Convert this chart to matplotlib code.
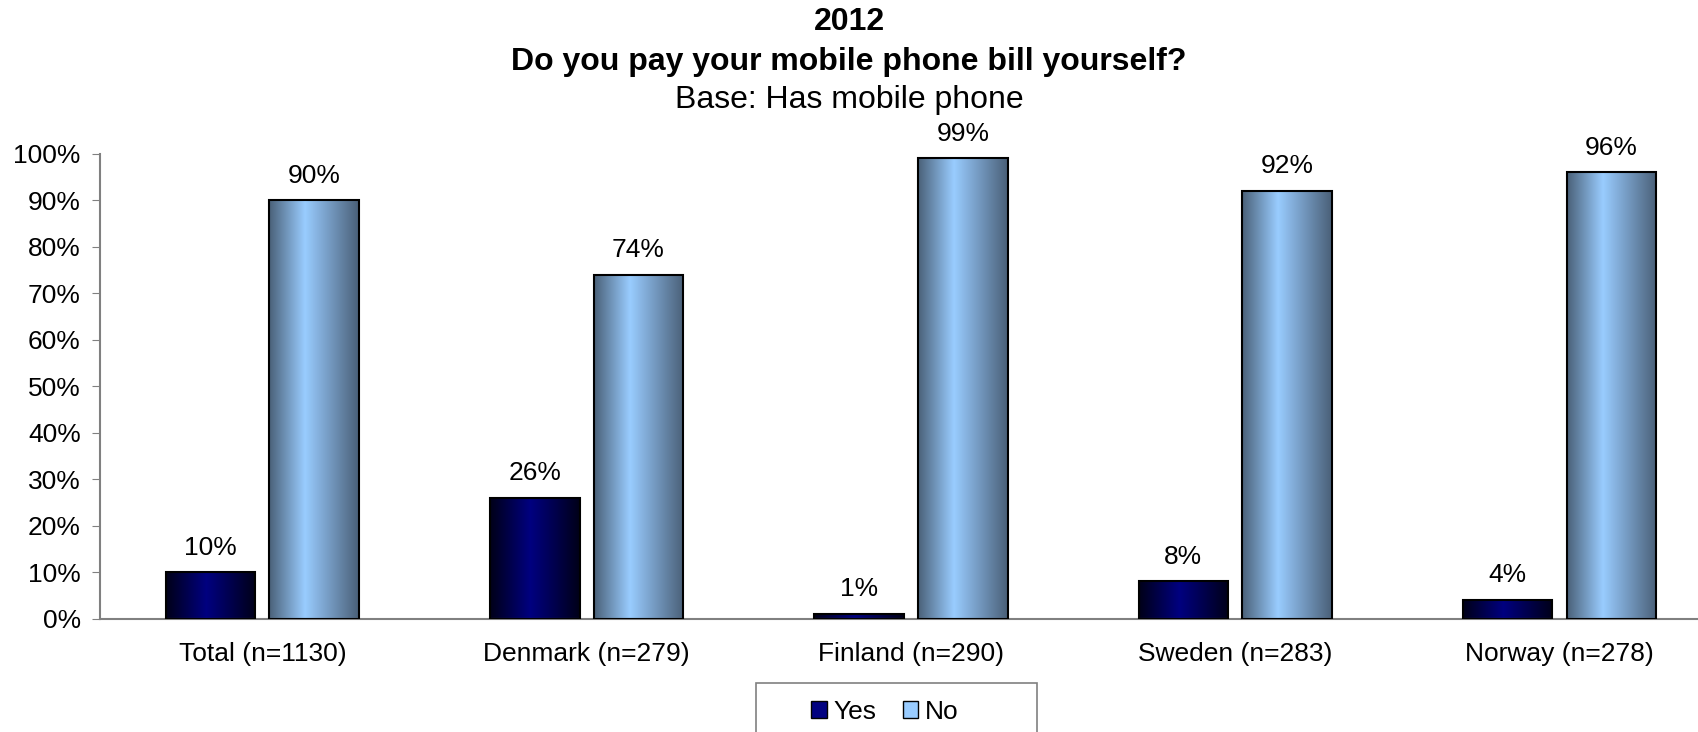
import numpy as np
import matplotlib.pyplot as plt
from matplotlib.colors import LinearSegmentedColormap
from matplotlib.patches import Patch, Rectangle

plt.rcParams['font.family'] = ['Liberation Sans', 'DejaVu Sans']

# Survey results
categories = ['Total (n=1130)', 'Denmark (n=279)', 'Finland (n=290)', 'Sweden (n=283)', 'Norway (n=278)']
yes_values = [10, 26, 1, 8, 4]
no_values = [90, 74, 99, 92, 96]

# Bar shading: dark edges, lighter middle
yes_cmap = LinearSegmentedColormap.from_list('yes', [(0.0, '#000018'), (0.45, '#000080'), (1.0, '#000018')])
no_cmap = LinearSegmentedColormap.from_list('no', [(0.0, '#4a6078'), (0.4, '#99ccff'), (1.0, '#4a6078')])

fig = plt.figure(figsize=(16.98, 7.32), dpi=100)
ax = fig.add_axes([0.059, 0.155, 0.955, 0.635])

x = np.arange(len(categories))
width = 0.276
offset = 0.16
fs = 19


def shaded_bars(xpos, values, cmap):
    bars = ax.bar(xpos, values, width, facecolor='none', edgecolor='black', linewidth=1.5, zorder=3)
    grad = np.linspace(0, 1, 256).reshape(1, -1)
    for b in bars:
        x0, y0 = b.get_x(), b.get_y()
        im = ax.imshow(grad, cmap=cmap, aspect='auto', zorder=2,
                       extent=[x0, x0 + b.get_width(), y0, y0 + b.get_height()])
        im.set_clip_path(b)
    for b, v in zip(bars, values):
        ax.annotate(f'{v}%', (b.get_x() + b.get_width() / 2, v), xytext=(0, 9),
                    textcoords='offset points', ha='center', va='bottom', fontsize=fs)
    return bars


shaded_bars(x - offset, yes_values, yes_cmap)
shaded_bars(x + offset, no_values, no_cmap)

ax.set_xlim(-0.5, len(categories) - 0.5)
ax.set_ylim(0, 100)
ax.set_yticks(np.arange(0, 101, 10))
ax.set_yticklabels([f'{v}%' for v in range(0, 101, 10)], fontsize=fs)
ax.set_xticks(x)
ax.set_xticklabels(categories, fontsize=fs)
ax.tick_params(axis='x', length=0, pad=17)
ax.tick_params(axis='y', length=6, color='#808080', pad=8)
for side in ['top', 'right']:
    ax.spines[side].set_visible(False)
for side in ['left', 'bottom']:
    ax.spines[side].set_color('#808080')
    ax.spines[side].set_linewidth(1.5)

fig.text(0.5, 0.97, '2012', ha='center', va='center', fontsize=23, fontweight='bold')
fig.text(0.5, 0.915, 'Do you pay your mobile phone bill yourself?', ha='center', va='center',
         fontsize=23, fontweight='bold')
fig.text(0.5, 0.864, 'Base: Has mobile phone', ha='center', va='center', fontsize=23)

# Legend box runs off the bottom edge
fig.patches.append(Rectangle((0.445, -0.05), 0.166, 0.117, transform=fig.transFigure,
                             facecolor='white', edgecolor='#808080', linewidth=1.2))
handles = [Patch(facecolor='#000080', edgecolor='black', label='Yes'),
           Patch(facecolor='#99ccff', edgecolor='black', label='No')]
fig.legend(handles=handles, loc='center', bbox_to_anchor=(0.521, 0.028), ncol=2,
           fontsize=fs, frameon=False, handlelength=0.6, handleheight=0.6,
           handletextpad=0.25, columnspacing=1.0, borderpad=0, borderaxespad=0)

fig.savefig('out.png', dpi=100)
